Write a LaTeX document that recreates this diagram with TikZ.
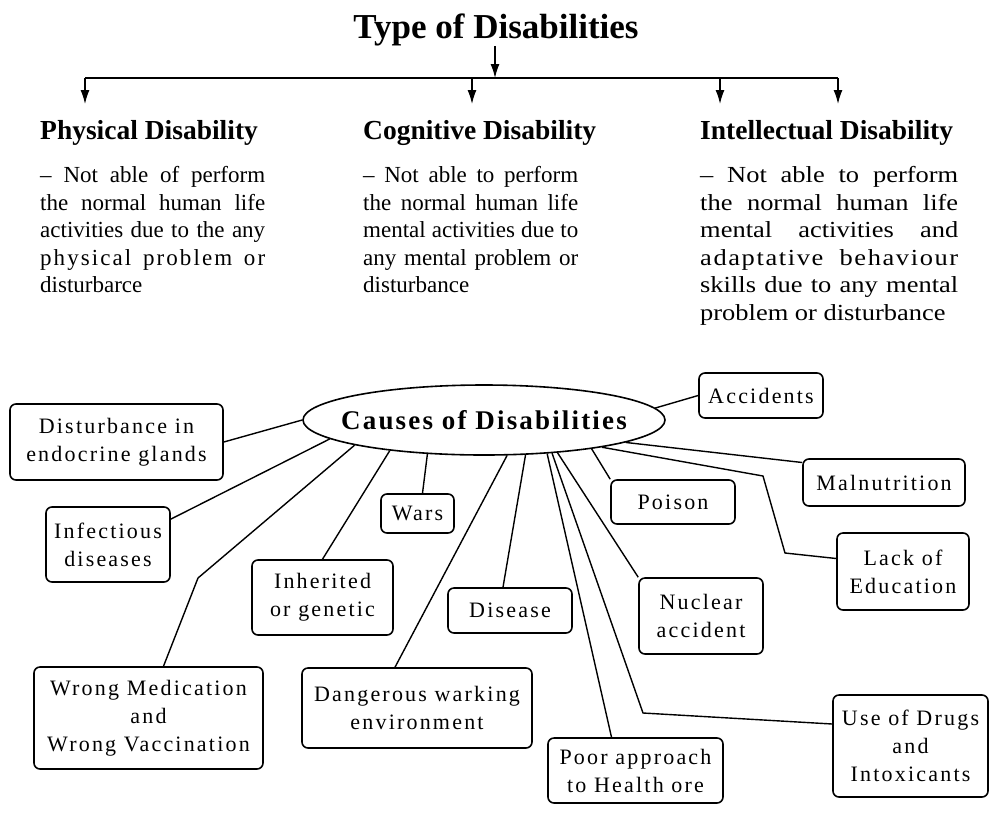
\documentclass[tikz,border=0pt]{standalone}
\usepackage{fontspec}
\setmainfont{Liberation Serif}
\newfontfamily\boxfont[LetterSpace=10]{Liberation Serif}
\newfontfamily\causefont[LetterSpace=8]{Liberation Serif}
\newfontfamily\widefont[FakeStretch=1.15]{Liberation Serif}
\usetikzlibrary{positioning,arrows.meta,shapes.geometric}

\begin{document}
\begin{tikzpicture}[x=1pt, y=-1pt,
    heading/.style={font=\fontsize{27.5}{33}\selectfont\bfseries, anchor=base west, inner sep=0pt},
    para/.style={font=\fontsize{23}{27.6}\selectfont, inner sep=0pt, align=justify},
    cause/.style={draw, ellipse, line width=1.6pt, inner sep=0pt, minimum width=362pt, minimum height=70pt, font=\causefont\bfseries\fontsize{27}{32}\selectfont},
    box/.style={draw, line width=1.6pt, rounded corners=6pt, inner sep=0pt, align=center, font=\boxfont\fontsize{22}{28}\selectfont},
    link/.style={line width=1.4pt},
    arr/.style={line width=1.4pt, -{Latex[length=14pt,width=9pt]}},
  ]
    \useasboundingbox (0,0) rectangle (990,812);

    % types
    \node[font=\fontsize{35}{42}\selectfont\bfseries, anchor=base, inner sep=0pt] (title) at (496,38) {Type of Disabilities};
    \coordinate (hub) at (495,78);
    \node[heading] (phys) at (40,139) {Physical Disability};
    \node[heading] (cogn) at (363,139) {Cognitive Disability};
    \node[heading] (intel) at (700,139) {Intellectual Disability};

    \node[para, text width=225pt, below=27pt of phys.base west, anchor=north west] (physdesc)
      {– Not able of perform\linebreak the normal human life\linebreak activities due to the any\linebreak {\addfontfeature{LetterSpace=9}physical problem or}\linebreak disturbarce};
    \node[para, text width=215pt, below=27pt of cogn.base west, anchor=north west] (cogndesc)
      {– Not able to perform\linebreak the normal human life\linebreak mental activities due to\linebreak any mental problem or\linebreak disturbance};
    \node[para, text width=258pt, font=\widefont\fontsize{23}{27.6}\selectfont, below=27pt of intel.base west, anchor=north west] (inteldesc)
      {– Not able to perform\linebreak the normal human life\linebreak mental activities and\linebreak {\addfontfeature{LetterSpace=7}adaptative behaviour}\linebreak skills due to any mental\linebreak problem or disturbance};

    \draw[arr] (title.south -| hub) -- (hub);
    \foreach \x [count=\i] in {85,472,720,838} {
      \coordinate (drop\i) at (\x,78);
      \draw[arr] (drop\i) -- ++(0,26);
    }
    \draw[link] (drop1) -- (drop4);

    % causes
    \node[cause] (causes) at (484,420) {\makebox[0pt]{Causes of Disabilities}};

    \node[box, minimum width=213pt, minimum height=76pt] (endo) at (116.5,442) {Disturbance in\\endocrine glands};
    \node[box, minimum width=124pt, minimum height=75pt] (infect) at (108,544.5) {Infectious\\diseases};
    \node[box, minimum width=229pt, minimum height=102pt] (wrongmed) at (148.5,718) {Wrong Medication\\and\\Wrong Vaccination};
    \node[box, minimum width=73pt, minimum height=39pt] (wars) at (417.5,513.5) {Wars};
    \node[box, minimum width=141pt, minimum height=75pt] (inher) at (322.5,597.5) {Inherited\\or genetic};
    \node[box, minimum width=230pt, minimum height=80pt] (danger) at (417,708) {Dangerous warking\\environment};
    \node[box, minimum width=124pt, minimum height=45pt] (disease) at (510,610.5) {Disease};
    \node[box, minimum width=175pt, minimum height=65pt] (poor) at (635.5,770.5) {Poor approach\\to Health ore};
    \node[box, minimum width=124pt, minimum height=76pt] (nuclear) at (701,616) {Nuclear\\accident};
    \node[box, minimum width=155pt, minimum height=102pt] (drugs) at (910.5,746) {Use of Drugs\\and\\Intoxicants};
    \node[box, minimum width=124pt, minimum height=44pt] (poison) at (673,502) {Poison};
    \node[box, minimum width=124pt, minimum height=45pt] (accid) at (761,395.5) {Accidents};
    \node[box, minimum width=162pt, minimum height=47pt] (maln) at (884,482.5) {Malnutrition};
    \node[box, minimum width=132pt, minimum height=77pt] (lack) at (903,571.5) {Lack of\\Education};

    \coordinate (medbend) at (198,578);
    \coordinate (drugbend) at (643,713);
    \coordinate (lackbendA) at (763,476);
    \coordinate (lackbendB) at (785,553);

    \draw[link] (endo.east) -- (causes.west);
    \draw[link] (infect.22) -- (causes.187);
    \draw[link] (causes.191) -- (medbend) -- ([xshift=15pt]wrongmed.north);
    \draw[link] ([xshift=5pt]wars.north) -- (causes.211);
    \draw[link] (inher.north) -- (causes.198);
    \draw[link] ([xshift=-22pt]danger.north) -- (causes.303);
    \draw[link] ([xshift=-7pt]disease.north) -- (causes.320);
    \draw[link] (causes.332) -- ([xshift=-24pt]poor.north);
    \draw[link] (causes.334) -- (drugbend) -- ([yshift=22pt]drugs.west);
    \draw[link] (causes.336) -- (nuclear.north west);
    \draw[link] (causes.345) -- (poison.north west);
    \draw[link] (causes.347) -- (lackbendA) -- (lackbendB) -- ([yshift=13pt]lack.west);
    \draw[link] (causes.351) -- ([yshift=20pt]maln.west);
    \draw[link] (causes.4) -- (accid.west);
  \end{tikzpicture}
\end{document}
